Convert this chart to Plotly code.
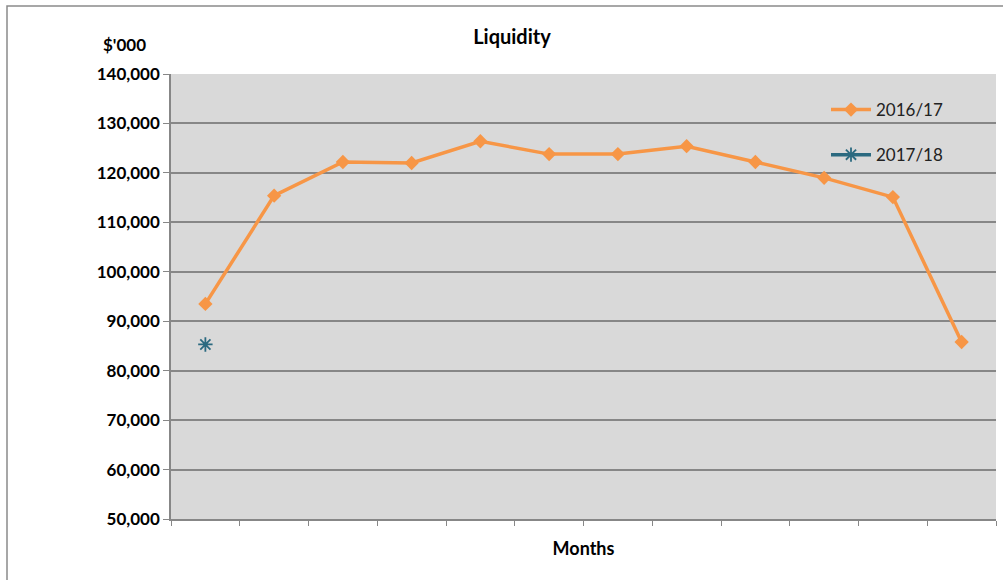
import plotly.graph_objects as go

months = ["Jul", "Aug", "Sep", "Oct", "Nov", "Dec", "Jan", "Feb", "Mar", "Apr", "May", "Jun"]
liq_2016_17 = [93500, 115400, 122200, 122000, 126400, 123800, 123800, 125400, 122200, 119000, 115100, 85800]
liq_2017_18 = [85300, None, None, None, None, None, None, None, None, None, None, None]
y_ticks = [50000, 60000, 70000, 80000, 90000, 100000, 110000, 120000, 130000, 140000]

FONT = "Lato, 'Open Sans', sans-serif"
GRID = "#878787"

fig = go.Figure()
fig.add_trace(go.Scatter(
    x=months, y=liq_2016_17, name="2016/17", mode="lines+markers",
    line=dict(color="#f79646", width=3.5),
    marker=dict(symbol="diamond", size=11, color="#f79646"),
    legendgroup="a",
))
fig.add_trace(go.Scatter(
    x=months, y=liq_2017_18, name="2017/18", mode="lines+markers",
    line=dict(color="#2b6a80", width=3.5),
    marker=dict(symbol="asterisk-open", size=12, color="#2b6a80",
                line=dict(color="#2b6a80", width=1.8)),
    legendgroup="b",
))

W, H = 1003, 580
L, R, T, B = 171, 7, 74, 61
pw, ph = W - L - R, H - T - B

fig.update_layout(
    width=W, height=H,
    margin=dict(l=L, r=R, t=T, b=B),
    paper_bgcolor="white", plot_bgcolor="#d9d9d9",
    font=dict(family=FONT, size=13, color="black"),
    title=dict(text="<b>Liquidity</b>", x=(512 - L) / pw, xref="paper", xanchor="center",
               y=1 - 37 / H, yanchor="middle", font=dict(size=20)),
    showlegend=True,
    legend=dict(x=(826 - L) / pw, y=(519 - 92) / ph, xanchor="left", yanchor="top",
                bgcolor="rgba(0,0,0,0)", font=dict(size=17, color="#222"),
                tracegroupgap=20, itemwidth=40),
    xaxis=dict(type="category", range=[-0.5, 11.5], showticklabels=False,
               tickson="boundaries", ticks="outside", ticklen=5, tickcolor=GRID,
               showgrid=False, showline=True, linecolor=GRID, linewidth=1.5,
               title=dict(text="<b>Months</b>", font=dict(size=18), standoff=23)),
    yaxis=dict(range=[50000, 140000], tickvals=y_ticks,
               ticktext=[f"<b>{v:,}</b>" for v in y_ticks],
               ticks="outside", ticklen=6, tickcolor=GRID, tickfont=dict(size=17),
               showgrid=True, gridcolor=GRID, gridwidth=1.5,
               showline=True, linecolor=GRID, linewidth=1.5, zeroline=False),
)

fig.add_annotation(text="<b>$'000</b>", xref="paper", yref="paper",
                   x=(148 - L) / pw, y=(519 - 44) / ph, xanchor="right", yanchor="middle",
                   showarrow=False, font=dict(size=17))

fig.add_shape(type="rect", xref="paper", yref="paper",
              x0=(7 - L) / pw, x1=(1010 - L) / pw, y0=(519 - 590) / ph, y1=(519 - 6) / ph,
              line=dict(color="#8a8a8a", width=1.5), fillcolor="rgba(0,0,0,0)", layer="below")

fig.write_html("out.html", config={"displayModeBar": False},
               post_script="document.body.style.margin='0';")
